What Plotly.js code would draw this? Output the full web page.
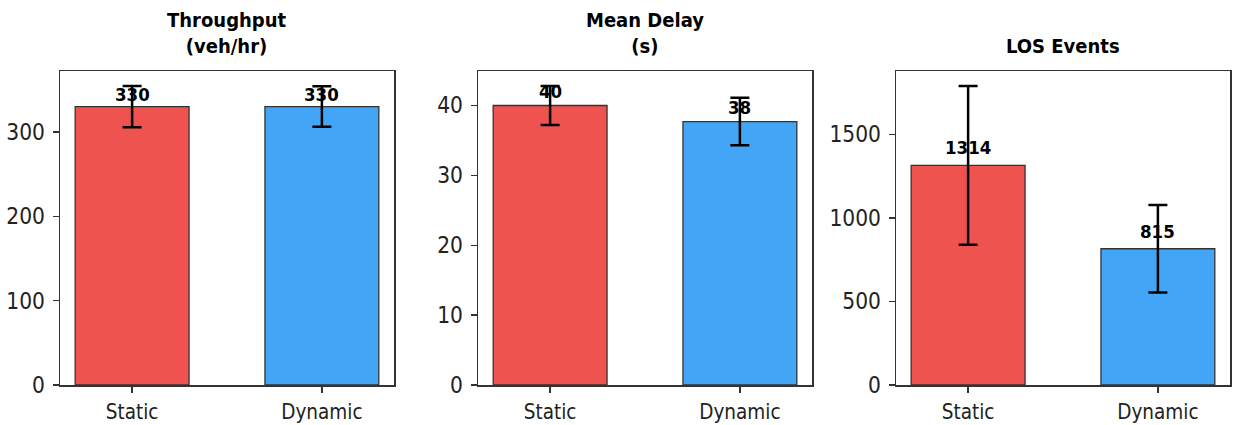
<!DOCTYPE html>
<html>
<head>
<meta charset="utf-8">
<script src="https://cdn.plot.ly/plotly-3.0.1.min.js"></script>
<style>
  html, body { margin: 0; padding: 0; background: #fff; overflow: hidden; }
  #chart { width: 1233px; height: 425px; }
</style>
</head>
<body>
<div id="chart"></div>
<script>
// ---- data ----
const categories = ['Static', 'Dynamic'];
const panelTitles = ['Throughput<br>(veh/hr)', 'Mean Delay<br>(s)', 'LOS Events'];
const throughputMean = [330, 330];
const throughputStd = [24.5, 24];
const delayMean = [40.0, 37.7];
const delayStd = [2.8, 3.4];
const losMean = [1314, 815];
const losStd = [475, 262];
const yTickStep = [100, 10, 500];

// ---- style ----
const FONT = '"DejaVu Sans Condensed", "DejaVu Sans", sans-serif';
const barColors = ['#EF5350', '#42A5F5'];
const W = 1233, H = 425;
const xPx = [[60, 394], [478, 812], [896, 1230]];
const yPx = [71, 385];
const labelShift = [0, 2, 5];

const panels = [
  {mean: throughputMean, std: throughputStd},
  {mean: delayMean, std: delayStd},
  {mean: losMean, std: losStd}
];

const data = [];
const annotations = [];
const layout = {
  width: W, height: H,
  margin: {l: 0, r: 0, t: 0, b: 0},
  paper_bgcolor: '#fff', plot_bgcolor: '#fff',
  showlegend: false,
  font: {family: FONT, size: 21, color: '#222'}
};

const yDom = [1 - yPx[1] / H, 1 - yPx[0] / H];

panels.forEach((p, i) => {
  const n = i + 1;
  const xa = 'x' + (n === 1 ? '' : n);
  const ya = 'y' + (n === 1 ? '' : n);
  const xs = categories.map((_, k) => k);
  data.push({
    type: 'bar',
    x: xs,
    y: p.mean,
    width: 0.6,
    xaxis: xa, yaxis: ya,
    marker: {color: barColors, line: {color: '#333', width: 1.3}},
    error_y: {type: 'data', array: p.std, visible: true, color: '#000', thickness: 2.5, width: 9.5},
    hoverinfo: 'none'
  });
  const ymax = Math.max(...p.mean.map((m, k) => m + p.std[k])) * 1.05;
  const axCommon = {
    showline: true, mirror: true, linecolor: '#333', linewidth: 1.5,
    ticks: 'outside', ticklen: 6, tickwidth: 1.5, tickcolor: '#333',
    showgrid: false, zeroline: false, fixedrange: true
  };
  layout['xaxis' + (n === 1 ? '' : n)] = Object.assign({}, axCommon, {
    domain: [xPx[i][0] / W, xPx[i][1] / W],
    anchor: ya,
    range: [-0.38, 1.38],
    tickmode: 'array', tickvals: xs, ticktext: categories,
    ticklabelstandoff: 2,
    tickfont: {family: FONT, size: 20.5, color: '#222'}
  });
  layout['yaxis' + (n === 1 ? '' : n)] = Object.assign({}, axCommon, {
    domain: yDom,
    anchor: xa,
    range: [0, ymax],
    tick0: 0, dtick: yTickStep[i],
    ticklabelstandoff: 3,
    tickfont: {family: FONT, size: 22.5, color: '#222'}
  });
  // value labels
  p.mean.forEach((m, k) => {
    annotations.push({
      xref: xa, yref: ya, x: k, y: m,
      text: String(Math.round(m)),
      showarrow: false, yanchor: 'bottom', xanchor: 'center',
      yshift: labelShift[i],
      font: {family: FONT, size: 18.5, color: '#000', weight: 'bold'}
    });
  });
  // panel title
  annotations.push({
    xref: 'paper', yref: 'paper',
    x: (xPx[i][0] + xPx[i][1]) / 2 / W, y: yDom[1],
    text: panelTitles[i],
    showarrow: false, xanchor: 'center', yanchor: 'bottom', yshift: 11,
    font: {family: FONT, size: 20, color: '#000', weight: 'bold'}
  });
});
layout.annotations = annotations;

Plotly.newPlot('chart', data, layout, {staticPlot: true, displayModeBar: false});
</script>
</body>
</html>
